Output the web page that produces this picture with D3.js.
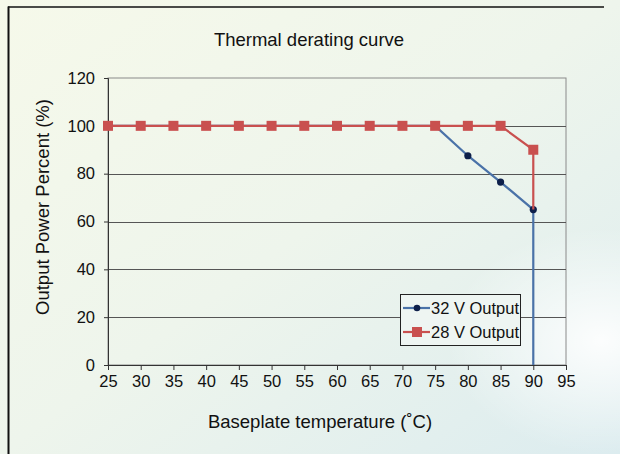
<!DOCTYPE html>
<html><head><meta charset="utf-8">
<script src="https://cdn.jsdelivr.net/npm/d3@7"></script>
<style>html,body{margin:0;padding:0;}svg{display:block;}</style>
</head><body>
<svg id="c" width="620" height="454"></svg>
<script>
const xTicks = [25,30,35,40,45,50,55,60,65,70,75,80,85,90,95];
const yTicks = [0,20,40,60,80,100,120];
const temps32 = [25,30,35,40,45,50,55,60,65,70,75,80,85,90,90];
const power32 = [100,100,100,100,100,100,100,100,100,100,100,87.5,76.5,65,0];
const temps28 = [25,30,35,40,45,50,55,60,65,70,75,80,85,90,90];
const power28 = [100,100,100,100,100,100,100,100,100,100,100,100,100,90,65];
const seriesNames = ["32 V Output","28 V Output"];

const svg = d3.select("#c");
const W=620,H=454;
const defs = svg.append("defs");
const lg = defs.append("linearGradient").attr("id","bg").attr("x1","0").attr("y1","0").attr("x2","1").attr("y2","1");
lg.append("stop").attr("offset","0").attr("stop-color","#f6f9ea");
lg.append("stop").attr("offset","0.5").attr("stop-color","#eef5ec");
lg.append("stop").attr("offset","1").attr("stop-color","#dcecef");
const rg = defs.append("radialGradient").attr("id","hl").attr("cx","0.97").attr("cy","0.75").attr("r","0.25");
rg.append("stop").attr("offset","0").attr("stop-color","#ffffff").attr("stop-opacity","0.9");
rg.append("stop").attr("offset","1").attr("stop-color","#ffffff").attr("stop-opacity","0");
svg.append("rect").attr("width",W).attr("height",H).attr("fill","url(#bg)");
svg.append("rect").attr("width",W).attr("height",H).attr("fill","url(#hl)");

// frame lines
svg.append("line").attr("x1",8).attr("x2",604).attr("y1",7).attr("y2",7).attr("stroke","#111").attr("stroke-width",1.5);
svg.append("line").attr("x1",8.5).attr("x2",8.5).attr("y1",6.5).attr("y2",H).attr("stroke","#111").attr("stroke-width",2);

const L=108,R=566,T=78,B=365;
const x = d3.scaleLinear().domain([25,95]).range([L,R]);
const y = d3.scaleLinear().domain([0,120]).range([B,T]);
const font = "'Liberation Sans', Arial, sans-serif";

// plot area border
svg.append("rect").attr("x",L).attr("y",T).attr("width",R-L).attr("height",B-T)
  .attr("fill","none").attr("stroke","#8a8a8a").attr("stroke-width",1);
// gridlines
svg.append("g").selectAll("line").data(yTicks.filter(v=>v>0&&v<120)).join("line")
  .attr("x1",L).attr("x2",R).attr("y1",d=>Math.round(y(d))+0.5).attr("y2",d=>Math.round(y(d))+0.5)
  .attr("stroke","#555").attr("stroke-width",1);

// axes
const xAxis = svg.append("g").attr("transform",`translate(0,${B})`)
  .call(d3.axisBottom(x).tickValues(xTicks).tickSize(5).tickPadding(5));
const yAxis = svg.append("g").attr("transform",`translate(${L},0)`)
  .call(d3.axisLeft(y).tickValues(yTicks).tickSize(4).tickPadding(9));
[xAxis,yAxis].forEach(g=>{
  g.selectAll("path").attr("stroke","#333");
  g.selectAll("line").attr("stroke","#333");
  g.selectAll("text").attr("font-family",font).attr("font-size",16.5).attr("fill","#111");
});

// series
const s32 = temps32.map((t,i)=>({t,p:power32[i]}));
const s28 = temps28.map((t,i)=>({t,p:power28[i]}));
const line = d3.line().x(d=>x(d.t)).y(d=>y(d.p));
const blue="#4a72a8", navy="#0d1f4a", red="#c9504f";
svg.append("path").datum(s32).attr("d",line).attr("fill","none").attr("stroke",blue).attr("stroke-width",2.2);
svg.append("g").selectAll("circle").data(s32.slice(0,-1)).join("circle")
  .attr("cx",d=>x(d.t)).attr("cy",d=>y(d.p)).attr("r",3.6).attr("fill",navy);
svg.append("path").datum(s28).attr("d",line).attr("fill","none").attr("stroke",red).attr("stroke-width",2.2);
svg.append("g").selectAll("rect").data(s28.slice(0,-1)).join("rect")
  .attr("x",d=>x(d.t)-5).attr("y",d=>y(d.p)-5).attr("width",10).attr("height",10).attr("fill",red);

// legend
const lgX=400,lgY=294;
svg.append("rect").attr("x",lgX+0.5).attr("y",lgY+0.5).attr("width",120).attr("height",51)
  .attr("fill","#eef5f2").attr("stroke","#222").attr("stroke-width",1);
const items=[{n:seriesNames[0],c:blue,m:"c"},{n:seriesNames[1],c:red,m:"s"}];
items.forEach((it,i)=>{
  const cy = lgY+14+i*24;
  svg.append("line").attr("x1",lgX+3).attr("x2",lgX+30).attr("y1",cy).attr("y2",cy).attr("stroke",it.c).attr("stroke-width",2.2);
  if(it.m==="c") svg.append("circle").attr("cx",lgX+17).attr("cy",cy).attr("r",3.3).attr("fill",navy);
  else svg.append("rect").attr("x",lgX+12).attr("y",cy-5).attr("width",10).attr("height",10).attr("fill",red);
  svg.append("text").attr("x",lgX+31).attr("y",cy+6).text(it.n)
    .attr("font-family",font).attr("font-size",16.5).attr("fill","#111");
});

// titles
svg.append("text").attr("x",309).attr("y",46).attr("text-anchor","middle").text("Thermal derating curve")
  .attr("font-family",font).attr("font-size",18.5).attr("fill","#111");
svg.append("text").attr("x",320).attr("y",428).attr("text-anchor","middle").text("Baseplate temperature (˚C)")
  .attr("font-family",font).attr("font-size",18.5).attr("fill","#111");
svg.append("text").attr("transform","translate(49,207) rotate(-90)").attr("text-anchor","middle").text("Output Power Percent (%)")
  .attr("font-family",font).attr("font-size",18.5).attr("fill","#111");
</script>
</body></html>
